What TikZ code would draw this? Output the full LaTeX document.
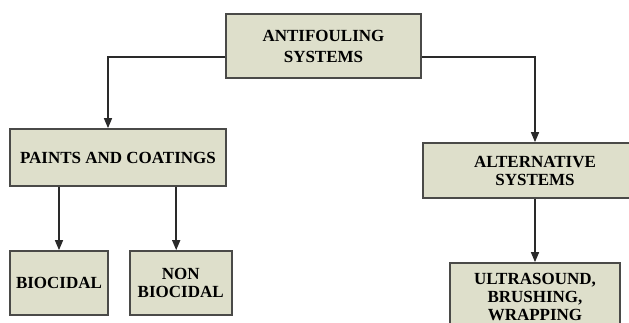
\documentclass[tikz,border=0pt]{standalone}
\usepackage{fontspec}
\setmainfont{Liberation Serif}
\usetikzlibrary{arrows.meta, positioning}
\definecolor{boxFill}{HTML}{DEDFCB}
\definecolor{boxLine}{HTML}{4A4A48}
\definecolor{arrowDark}{HTML}{2A2A2A}
\tikzset{
  arrowK/.style={-{Triangle[length=10pt, width=8pt]}, arrowDark, line width=1.5pt},
  boxK/.style={rectangle, draw=boxLine, fill=boxFill, line width=1.7pt,
               align=center, inner sep=2pt,
               font=\bfseries\fontsize{17}{18}\selectfont},
}
\begin{document}
\begin{tikzpicture}[x=1pt, y=1pt]
    \useasboundingbox (0,0) rectangle (629,-323);
    \clip (0,0) rectangle (629,-323);
    \node[boxK, minimum width=195pt, minimum height=64pt,
          font=\bfseries\fontsize{17}{21}\selectfont] (sys) at (323.5,-46) {ANTIFOULING\\SYSTEMS};
    \node[boxK, minimum width=216pt, minimum height=57pt] (paint) at (118,-157.5) {PAINTS AND COATINGS};
    \node[boxK, minimum width=224pt, minimum height=55pt] (alt) at (535,-170.5) {ALTERNATIVE\\SYSTEMS};
    \node[boxK, minimum width=98pt, minimum height=64pt] (bio) at (59,-283) {BIOCIDAL};
    \node[boxK, minimum width=102pt, minimum height=64pt, right=20pt of bio] (nonbio) {NON\\BIOCIDAL};
    \node[boxK, minimum width=170pt, minimum height=68pt] (ultra) at (535,-297) {ULTRASOUND,\\BRUSHING,\\WRAPPING};
    \draw[arrowK] ([yshift=-11pt]sys.west) -| ([xshift=-10pt]paint.north);
    \draw[arrowK] ([yshift=-11pt]sys.east) -| (alt.north);
    \draw[arrowK] (alt.south) -- (ultra.north);
    \draw[arrowK] (paint.south -| bio.north) -- (bio.north);
    \draw[arrowK] ([xshift=-4.5pt]paint.south -| nonbio.north) -- ([xshift=-4.5pt]nonbio.north);
  \end{tikzpicture}
\end{document}
